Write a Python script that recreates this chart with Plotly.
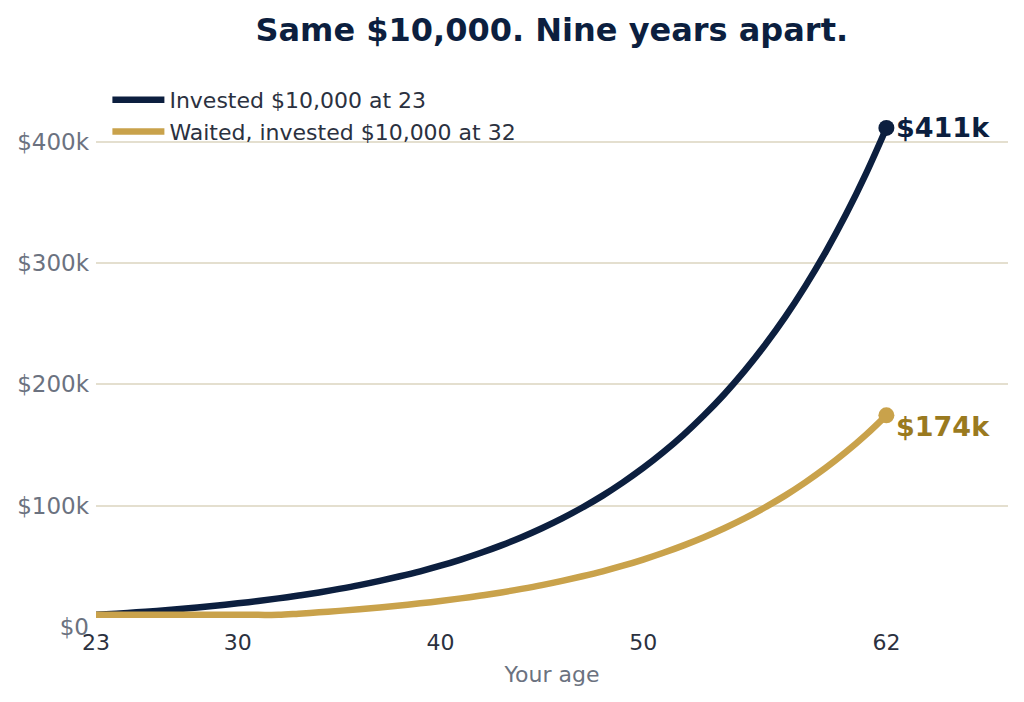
import plotly.graph_objects as go

# ages 23..62
ages = list(range(23, 63))

# portfolio value (dollars), one point per year of age
early_values = [
    10000, 11000, 12100, 13300, 14600, 16100, 17700, 19500, 21400, 23600,
    25900, 28500, 31400, 34500, 38000, 41800, 45900, 50500, 55600, 61200,
    67300, 74000, 81400, 89500, 98500, 108300, 119200, 131100, 144200, 158600,
    174500, 191900, 211100, 232200, 255400, 281000, 309100, 340000, 374000, 411400,
]
late_values = [
    10000, 10000, 10000, 10000, 10000, 10000, 10000, 10000, 10000, 10000,
    11000, 12100, 13300, 14600, 16100, 17700, 19500, 21400, 23600, 25900,
    28500, 31400, 34500, 38000, 41800, 45900, 50500, 55600, 61200, 67300,
    74000, 81400, 89500, 98500, 108300, 119200, 131100, 144200, 158600, 174500,
]

x_ticks = [23, 30, 40, 50, 62]
y_ticks = [0, 100000, 200000, 300000, 400000]
y_tick_labels = ["$0", "$100k", "$200k", "$300k", "$400k"]

NAVY = "#0c1f3f"
GOLD = "#c9a24b"
GOLD_TEXT = "#9a7a1f"

fig = go.Figure()
fig.add_trace(go.Scatter(x=ages, y=early_values, mode="lines",
                         name="Invested $10,000 at 23",
                         line=dict(color=NAVY, width=6.5, shape="spline")))
fig.add_trace(go.Scatter(x=ages, y=late_values, mode="lines",
                         name="Waited, invested $10,000 at 32",
                         line=dict(color=GOLD, width=6.5, shape="spline")))

# end points
fig.add_trace(go.Scatter(x=[ages[-1]], y=[early_values[-1]], mode="markers",
                         marker=dict(color=NAVY, size=16), showlegend=False))
fig.add_trace(go.Scatter(x=[ages[-1]], y=[late_values[-1]], mode="markers",
                         marker=dict(color=GOLD, size=16), showlegend=False))

fig.add_annotation(x=ages[-1], y=early_values[-1], text="<b>$411k</b>",
                   showarrow=False, xanchor="left", xshift=8,
                   font=dict(size=27, color=NAVY))
fig.add_annotation(x=ages[-1], y=late_values[-1], text="<b>$174k</b>",
                   showarrow=False, xanchor="left", xshift=8, yshift=-11,
                   font=dict(size=27, color=GOLD_TEXT))

fig.update_layout(
    width=1024, height=702,
    margin=dict(l=88, r=24, t=61, b=83),
    paper_bgcolor="white", plot_bgcolor="white",
    font=dict(family="DejaVu Sans", color="#2b3140"),
    title=dict(text="<b>Same $10,000. Nine years apart.</b>",
               x=0.531, xanchor="center", y=0.969, yanchor="middle",
               font=dict(size=32, color=NAVY)),
    legend=dict(x=0.0125, y=0.982, xanchor="left", yanchor="top",
                itemwidth=52,
                bgcolor="rgba(0,0,0,0)", font=dict(size=22, color="#2b3140")),
    xaxis=dict(range=[23, 68], tickvals=x_ticks, showgrid=False,
               zeroline=False, showline=False, ticks="", automargin=False,
               tickfont=dict(size=22, color="#2b3140"),
               title=dict(text="Your age", font=dict(size=22, color="#6b7280"),
                          standoff=12)),
    yaxis=dict(range=[0, 460000], tickvals=y_ticks, ticktext=y_tick_labels,
               gridcolor="#e4dfcf", gridwidth=1.6, zeroline=False,
               showline=False, ticks="", ticklabelstandoff=6, automargin=False,
               tickfont=dict(size=23, color="#6b7280")),
)

fig.write_html("out.html")
